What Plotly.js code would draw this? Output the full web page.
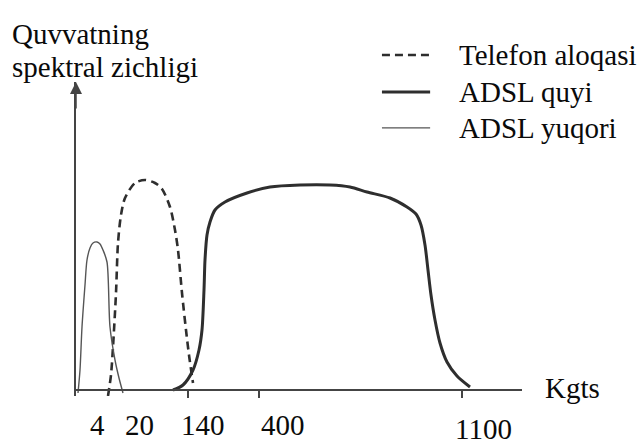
<!DOCTYPE html>
<html>
<head>
<meta charset="utf-8">
<script src="https://cdn.plot.ly/plotly-3.0.1.min.js"></script>
<style>html,body{margin:0;padding:0;background:#fff;}#chart{width:642px;height:445px;}</style>
</head>
<body>
<div id="chart"></div>
<script>
// Position along the (non-linear) frequency axis, and relative spectral power
const yuqoriX = [2, 4, 6, 9, 11, 14, 17, 21, 24, 27, 31, 34, 39, 43, 47];
const yuqoriY = [-3, 20, 63, 105, 130, 142, 147, 148, 146, 140, 128, 63, 30, 12, -3];

const telefonX = [32, 35, 37, 40, 42, 45, 49, 59, 69, 79, 86, 94, 99, 102, 106, 110, 113, 117];
const telefonY = [-6, 15, 43, 97, 147, 175, 192, 207, 210, 207, 201, 183, 160, 140, 97, 60, 35, 7];

const quyiX = [97, 107, 117, 123, 126, 128, 129, 131, 134, 139, 149, 171, 194, 224, 254, 274, 291, 314, 331, 340, 345, 349, 352, 355, 359, 364, 371, 381, 394];
const quyiY = [0, 5, 20, 40, 60, 100, 130, 155, 168, 180, 188, 197, 203, 205, 205, 203, 198, 192, 183, 176, 165, 145, 120, 95, 70, 47, 28, 14, 3];

const tickPos = [112, 183, 386];
const tickLabels = ['4', '20', '140', '400', '1100'];
const tickLabelPos = [0.0493, 0.1413, 0.2848, 0.4641, 0.9126];
const tickLabelLevel = [-0.092, -0.092, -0.092, -0.092, -0.106];

const seriesNames = ['Telefon aloqasi', 'ADSL quyi', 'ADSL yuqori'];
const legendRows = [1.086, 0.968, 0.854];
const yTitleLines = ['Quvvatning', 'spektral zichligi'];
const yTitleRows = [1.153, 1.048];
const xTitle = 'Kgts';

const ink = '#2e2e2e';
const FONT = 'Liberation Serif';
const FS = 29;
const TXT = '#0a0a0a';

function draw() {
  const styles = [
    {color: ink, width: 2.6, dash: '8px,5px', shape: 'spline', smoothing: 0.8},
    {color: ink, width: 3, shape: 'spline', smoothing: 0.8},
    {color: '#555555', width: 1.4, shape: 'spline', smoothing: 0.8}
  ];
  const xs = [telefonX, quyiX, yuqoriX];
  const ys = [telefonY, quyiY, yuqoriY];

  const traces = seriesNames.map((n, i) => ({x: xs[i], y: ys[i], name: n, mode: 'lines',
    line: styles[i], showlegend: false}));

  const annotations = [];
  const shapes = [];
  tickLabels.forEach((t, i) => {
    annotations.push({x: tickLabelPos[i], y: tickLabelLevel[i], xref: 'paper', yref: 'paper',
      text: t, showarrow: false, xanchor: 'center', yanchor: 'middle',
      font: {family: FONT, size: FS, color: TXT}});
  });
  yTitleLines.forEach((t, i) => {
    annotations.push({x: -0.148, y: yTitleRows[i], xref: 'paper', yref: 'paper', text: t, showarrow: false,
      xanchor: 'left', yanchor: 'middle', font: {family: FONT, size: FS, color: TXT}});
  });
  annotations.push({x: 1.047, y: 0.0255, xref: 'paper', yref: 'paper', text: xTitle, showarrow: false,
    xanchor: 'left', yanchor: 'middle', font: {family: FONT, size: FS, color: TXT}});
  // legend: key samples and labels
  seriesNames.forEach((n, i) => {
    shapes.push({type: 'line', xref: 'paper', yref: 'paper', x0: 0.686, x1: 0.794,
      y0: legendRows[i], y1: legendRows[i],
      line: {color: styles[i].color, width: styles[i].width, dash: styles[i].dash || 'solid'}});
    annotations.push({x: 0.854, y: legendRows[i], xref: 'paper', yref: 'paper', text: n, showarrow: false,
      xanchor: 'left', yanchor: 'middle', font: {family: FONT, size: FS, color: TXT}});
  });
  // arrow head on the vertical axis
  annotations.push({x: 0, y: 308, xref: 'x', yref: 'y', ax: 0, ay: 28, text: '', showarrow: true,
    arrowhead: 2, arrowsize: 1.6, arrowwidth: 1.5, arrowcolor: '#444'});

  const layout = {
    width: 642, height: 445,
    font: {family: FONT, size: FS, color: TXT},
    margin: {l: 76, r: 120, t: 82, b: 49},
    paper_bgcolor: '#fff', plot_bgcolor: '#fff',
    showlegend: false,
    xaxis: {range: [0, 446], anchor: 'free', position: 6 / 314, showline: true, linecolor: '#444', linewidth: 2,
      showgrid: false, zeroline: false, tickmode: 'array', tickvals: tickPos, ticktext: ['', '', ''],
      ticks: 'outside', ticklen: 7, tickwidth: 1.5, tickcolor: '#444', fixedrange: true},
    yaxis: {range: [-6, 308], showline: true, linecolor: '#444', linewidth: 1.5, showgrid: false,
      zeroline: false, showticklabels: false, ticks: '', fixedrange: true},
    annotations: annotations,
    shapes: shapes
  };

  Plotly.newPlot('chart', traces, layout, {displayModeBar: false});
}

if (document.fonts && document.fonts.load) {
  document.fonts.load("29px 'Liberation Serif'").then(draw, draw);
} else {
  draw();
}
</script>
</body>
</html>
